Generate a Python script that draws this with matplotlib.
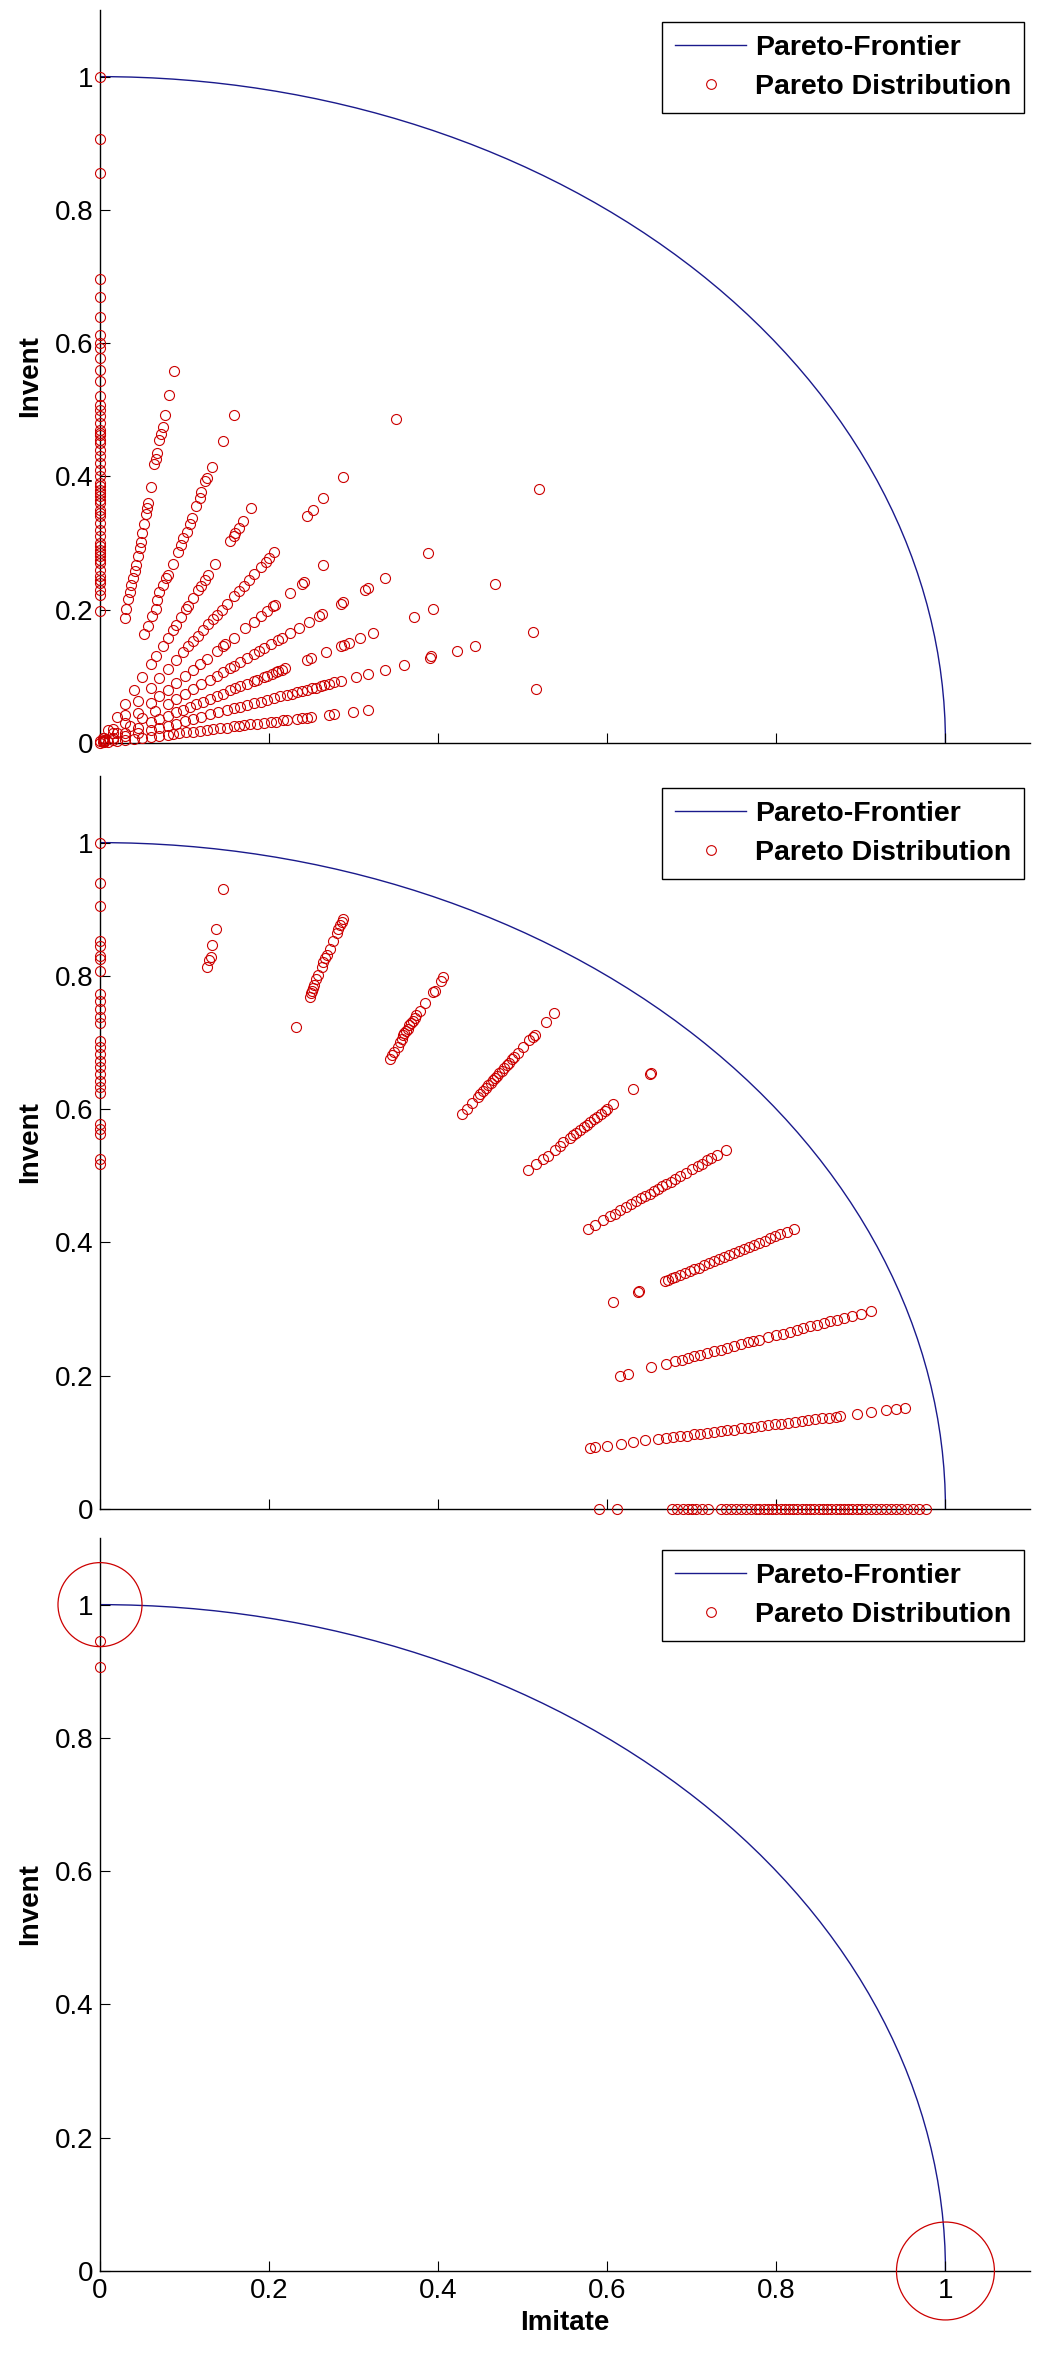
import matplotlib
matplotlib.use("Agg")
import matplotlib.pyplot as plt
import matplotlib.patches as mpatches
from matplotlib.lines import Line2D
import numpy as np

plt.rcParams["font.family"] = ["Liberation Sans", "DejaVu Sans"]

# ---------------- data ----------------
frontier_radius = 1.0
ticks = [0, 0.2, 0.4, 0.6, 0.8, 1]
tick_labels = ["0", "0.2", "0.4", "0.6", "0.8", "1"]

# top panel: points along rays from the origin
t_axis_y = [1.0, 0.907, 0.855, 0.697, 0.670, 0.640, 0.613, 0.600, 0.593, 0.578, 0.560, 0.543,
            0.520, 0.507, 0.500, 0.490, 0.480, 0.470, 0.465, 0.462, 0.455, 0.450, 0.440, 0.430,
            0.420, 0.410, 0.400, 0.390, 0.385, 0.380, 0.375, 0.370, 0.365, 0.360, 0.350, 0.345,
            0.340, 0.330, 0.320, 0.310, 0.300, 0.295, 0.290, 0.285, 0.280, 0.275, 0.270, 0.260,
            0.250, 0.245, 0.240, 0.230, 0.222, 0.198, 0.003, 0.0]
t_b_x = [0.029, 0.031, 0.033, 0.035, 0.037, 0.039, 0.041, 0.043, 0.045, 0.047, 0.049, 0.050, 0.052,
         0.054, 0.056, 0.057, 0.060, 0.064, 0.066, 0.068, 0.070, 0.072, 0.074, 0.077, 0.082, 0.087]
t_b_y = [0.187, 0.201, 0.216, 0.226, 0.237, 0.247, 0.258, 0.267, 0.280, 0.292, 0.302, 0.315, 0.328,
         0.343, 0.353, 0.360, 0.384, 0.418, 0.426, 0.435, 0.454, 0.464, 0.474, 0.492, 0.522, 0.559]
t_c_x = [0.052, 0.057, 0.062, 0.066, 0.067, 0.070, 0.074, 0.078, 0.080, 0.086, 0.092, 0.096, 0.098,
         0.103, 0.106, 0.109, 0.114, 0.118, 0.120, 0.124, 0.126, 0.132, 0.146, 0.159]
t_c_y = [0.163, 0.176, 0.191, 0.201, 0.214, 0.226, 0.237, 0.247, 0.252, 0.269, 0.287, 0.297, 0.307,
         0.317, 0.328, 0.338, 0.355, 0.368, 0.376, 0.393, 0.398, 0.414, 0.453, 0.492]
t_f_x = [0.004, 0.010, 0.020, 0.030, 0.040, 0.050, 0.060, 0.066, 0.074, 0.080, 0.086, 0.090, 0.096,
         0.102, 0.104, 0.110, 0.116, 0.120, 0.124, 0.128, 0.136, 0.154, 0.158, 0.160, 0.164, 0.169,
         0.179]
t_f_y = [0.008, 0.020, 0.039, 0.059, 0.079, 0.099, 0.118, 0.130, 0.146, 0.158, 0.169, 0.177, 0.189,
         0.201, 0.205, 0.217, 0.229, 0.236, 0.244, 0.252, 0.268, 0.303, 0.311, 0.315, 0.323, 0.333,
         0.353]
t_e_x = [0.005, 0.015, 0.030, 0.045, 0.060, 0.070, 0.080, 0.090, 0.098, 0.104, 0.110, 0.116, 0.122,
         0.128, 0.134, 0.138, 0.144, 0.150, 0.158, 0.164, 0.170, 0.176, 0.182, 0.190, 0.196, 0.200,
         0.206, 0.245, 0.252, 0.264, 0.287, 0.350]
t_e_y = [0.007, 0.021, 0.042, 0.063, 0.083, 0.097, 0.111, 0.125, 0.136, 0.145, 0.153, 0.161, 0.170,
         0.178, 0.186, 0.192, 0.200, 0.209, 0.220, 0.228, 0.236, 0.245, 0.253, 0.264, 0.272, 0.278,
         0.286, 0.341, 0.350, 0.367, 0.399, 0.486]
t_g_x = [0.005, 0.015, 0.030, 0.045, 0.060, 0.070, 0.080, 0.090, 0.100, 0.110, 0.118, 0.126, 0.138,
         0.146, 0.148, 0.158, 0.172, 0.182, 0.190, 0.198, 0.205, 0.207, 0.225, 0.239, 0.241, 0.264]
t_g_y = [0.005, 0.015, 0.030, 0.045, 0.060, 0.070, 0.080, 0.090, 0.100, 0.110, 0.118, 0.126, 0.138,
         0.146, 0.148, 0.158, 0.172, 0.182, 0.190, 0.198, 0.205, 0.207, 0.225, 0.239, 0.241, 0.267]
t_h_x = [0.005, 0.020, 0.035, 0.050, 0.065, 0.080, 0.090, 0.100, 0.110, 0.120, 0.130, 0.138, 0.146,
         0.154, 0.158, 0.166, 0.174, 0.182, 0.188, 0.194, 0.202, 0.210, 0.215, 0.225, 0.235, 0.247,
         0.259, 0.263, 0.285, 0.287, 0.313, 0.317, 0.337, 0.388, 0.519]
t_h_y = [0.004, 0.015, 0.026, 0.037, 0.048, 0.059, 0.066, 0.073, 0.081, 0.088, 0.095, 0.101, 0.107,
         0.113, 0.116, 0.122, 0.128, 0.134, 0.138, 0.142, 0.148, 0.154, 0.158, 0.165, 0.172, 0.181,
         0.190, 0.193, 0.209, 0.211, 0.230, 0.233, 0.247, 0.285, 0.381]
t_i_x = [0.005, 0.015, 0.030, 0.045, 0.060, 0.070, 0.080, 0.090, 0.098, 0.106, 0.114, 0.122, 0.130,
         0.138, 0.146, 0.154, 0.160, 0.166, 0.174, 0.182, 0.186, 0.194, 0.198, 0.204, 0.208, 0.211,
         0.215, 0.219, 0.245, 0.249, 0.267, 0.285, 0.289, 0.295, 0.307, 0.323, 0.371, 0.394, 0.467]
t_i_y = [0.003, 0.008, 0.015, 0.023, 0.031, 0.036, 0.041, 0.046, 0.050, 0.054, 0.058, 0.062, 0.066,
         0.070, 0.074, 0.079, 0.082, 0.085, 0.089, 0.093, 0.095, 0.099, 0.101, 0.104, 0.106, 0.108,
         0.110, 0.112, 0.125, 0.127, 0.136, 0.145, 0.147, 0.150, 0.157, 0.165, 0.189, 0.201, 0.238]
t_j_x = [0.005, 0.015, 0.030, 0.045, 0.060, 0.070, 0.080, 0.090, 0.100, 0.110, 0.120, 0.130, 0.140,
         0.150, 0.158, 0.166, 0.174, 0.182, 0.190, 0.198, 0.206, 0.213, 0.221, 0.227, 0.233, 0.239,
         0.245, 0.251, 0.255, 0.261, 0.265, 0.271, 0.277, 0.285, 0.303, 0.317, 0.337, 0.359, 0.390,
         0.391, 0.422, 0.444, 0.512]
t_j_y = [0.002, 0.005, 0.010, 0.015, 0.020, 0.023, 0.026, 0.029, 0.033, 0.036, 0.039, 0.043, 0.046,
         0.049, 0.052, 0.054, 0.057, 0.060, 0.062, 0.065, 0.067, 0.070, 0.072, 0.074, 0.076, 0.078,
         0.080, 0.082, 0.083, 0.085, 0.087, 0.089, 0.091, 0.093, 0.099, 0.104, 0.110, 0.117, 0.128,
         0.131, 0.138, 0.145, 0.167]
t_k_x = [0.004, 0.010, 0.020, 0.030, 0.040, 0.050, 0.060, 0.070, 0.080, 0.086, 0.094, 0.102, 0.110,
         0.118, 0.126, 0.134, 0.142, 0.150, 0.158, 0.164, 0.170, 0.178, 0.186, 0.194, 0.202, 0.208,
         0.217, 0.221, 0.233, 0.239, 0.245, 0.249, 0.271, 0.277, 0.299, 0.317, 0.516]
t_k_y = [0.001, 0.002, 0.003, 0.005, 0.006, 0.008, 0.009, 0.011, 0.012, 0.013, 0.015, 0.016, 0.017,
         0.018, 0.020, 0.021, 0.022, 0.023, 0.025, 0.026, 0.027, 0.028, 0.029, 0.030, 0.032, 0.032,
         0.034, 0.034, 0.036, 0.037, 0.038, 0.039, 0.042, 0.043, 0.047, 0.049, 0.081]

# middle panel: points pushed out towards the frontier
m_axis_y = [1.0, 0.940, 0.905, 0.853, 0.845, 0.830, 0.826, 0.808, 0.773, 0.763, 0.750, 0.738, 0.730,
            0.703, 0.693, 0.683, 0.673, 0.663, 0.653, 0.643, 0.633, 0.624, 0.578, 0.570, 0.563,
            0.525, 0.517]
m_b_x = [0.127, 0.129, 0.131, 0.133, 0.137, 0.146]
m_b_y = [0.814, 0.824, 0.829, 0.846, 0.871, 0.931]
m_c_x = [0.232, 0.248, 0.250, 0.251, 0.252, 0.253, 0.256, 0.258, 0.262, 0.264, 0.266, 0.268, 0.272,
         0.276, 0.280, 0.282, 0.284, 0.286, 0.288]
m_c_y = [0.723, 0.769, 0.774, 0.777, 0.782, 0.786, 0.796, 0.801, 0.813, 0.821, 0.827, 0.832, 0.841,
         0.853, 0.864, 0.870, 0.876, 0.881, 0.886]
m_f_x = [0.343, 0.345, 0.348, 0.352, 0.355, 0.357, 0.358, 0.360, 0.362, 0.364, 0.366, 0.368, 0.370,
         0.372, 0.374, 0.378, 0.384, 0.394, 0.396, 0.403, 0.406]
m_f_y = [0.676, 0.681, 0.686, 0.694, 0.701, 0.705, 0.711, 0.714, 0.717, 0.721, 0.726, 0.729, 0.733,
         0.737, 0.741, 0.747, 0.759, 0.776, 0.778, 0.792, 0.799]
m_e_x = [0.428, 0.434, 0.440, 0.447, 0.450, 0.453, 0.456, 0.459, 0.462, 0.465, 0.467, 0.469, 0.472,
         0.475, 0.478, 0.481, 0.484, 0.487, 0.490, 0.494, 0.500, 0.508, 0.512, 0.514, 0.528, 0.537]
m_e_y = [0.593, 0.601, 0.609, 0.619, 0.623, 0.627, 0.632, 0.636, 0.640, 0.644, 0.647, 0.650, 0.654,
         0.658, 0.662, 0.666, 0.670, 0.675, 0.679, 0.684, 0.693, 0.704, 0.709, 0.712, 0.731, 0.744]
m_g_x = [0.506, 0.516, 0.524, 0.530, 0.538, 0.544, 0.548, 0.556, 0.560, 0.563, 0.568, 0.572, 0.576,
         0.580, 0.584, 0.588, 0.592, 0.597, 0.600, 0.607, 0.630, 0.650, 0.652]
m_g_y = [0.508, 0.518, 0.525, 0.530, 0.539, 0.545, 0.550, 0.557, 0.561, 0.564, 0.569, 0.573, 0.577,
         0.581, 0.585, 0.589, 0.593, 0.597, 0.601, 0.608, 0.631, 0.653, 0.655]
m_h_x = [0.577, 0.585, 0.595, 0.603, 0.609, 0.615, 0.622, 0.628, 0.634, 0.640, 0.645, 0.650, 0.655,
         0.660, 0.665, 0.670, 0.675, 0.680, 0.686, 0.693, 0.700, 0.707, 0.712, 0.718, 0.723, 0.730,
         0.741]
m_h_y = [0.420, 0.426, 0.433, 0.439, 0.443, 0.448, 0.453, 0.457, 0.462, 0.466, 0.470, 0.473, 0.477,
         0.480, 0.484, 0.488, 0.491, 0.495, 0.499, 0.504, 0.510, 0.515, 0.518, 0.523, 0.526, 0.531,
         0.539]
m_i_x = [0.607, 0.636, 0.638, 0.668, 0.672, 0.676, 0.680, 0.686, 0.692, 0.698, 0.703, 0.708, 0.714,
         0.720, 0.726, 0.732, 0.738, 0.744, 0.750, 0.756, 0.762, 0.768, 0.774, 0.780, 0.786, 0.792,
         0.798, 0.804, 0.812, 0.821]
m_i_y = [0.311, 0.326, 0.327, 0.342, 0.344, 0.346, 0.348, 0.351, 0.354, 0.357, 0.360, 0.362, 0.366,
         0.369, 0.372, 0.375, 0.378, 0.381, 0.384, 0.387, 0.390, 0.393, 0.396, 0.399, 0.402, 0.406,
         0.409, 0.412, 0.416, 0.420]
m_j_x = [0.615, 0.624, 0.652, 0.670, 0.680, 0.688, 0.696, 0.702, 0.710, 0.718, 0.726, 0.734, 0.742,
         0.750, 0.758, 0.766, 0.772, 0.780, 0.790, 0.800, 0.808, 0.816, 0.824, 0.832, 0.840, 0.848,
         0.856, 0.864, 0.872, 0.880, 0.890, 0.900, 0.912]
m_j_y = [0.200, 0.203, 0.213, 0.218, 0.222, 0.224, 0.227, 0.229, 0.231, 0.234, 0.237, 0.239, 0.242,
         0.245, 0.247, 0.250, 0.252, 0.254, 0.258, 0.261, 0.263, 0.266, 0.269, 0.271, 0.274, 0.276,
         0.279, 0.282, 0.284, 0.287, 0.290, 0.293, 0.297]
m_k_x = [0.580, 0.585, 0.600, 0.616, 0.630, 0.645, 0.660, 0.670, 0.678, 0.686, 0.694, 0.702, 0.710,
         0.718, 0.726, 0.734, 0.742, 0.750, 0.758, 0.766, 0.774, 0.782, 0.790, 0.798, 0.806, 0.814,
         0.822, 0.830, 0.838, 0.846, 0.854, 0.862, 0.870, 0.875, 0.895, 0.912, 0.930, 0.941, 0.952]
m_k_y = [0.092, 0.093, 0.095, 0.098, 0.100, 0.103, 0.105, 0.107, 0.108, 0.109, 0.110, 0.112, 0.113,
         0.114, 0.115, 0.117, 0.118, 0.119, 0.121, 0.122, 0.123, 0.124, 0.126, 0.127, 0.128, 0.129,
         0.131, 0.132, 0.133, 0.135, 0.136, 0.137, 0.138, 0.139, 0.142, 0.145, 0.148, 0.150, 0.151]
m_base_x = [0.590, 0.611, 0.676, 0.682, 0.690, 0.695, 0.700, 0.705, 0.712, 0.719, 0.735, 0.741,
            0.746, 0.752, 0.758, 0.764, 0.770, 0.776, 0.780, 0.785, 0.790, 0.795, 0.800, 0.805,
            0.810, 0.815, 0.820, 0.825, 0.830, 0.835, 0.840, 0.845, 0.850, 0.855, 0.860, 0.865,
            0.870, 0.875, 0.880, 0.885, 0.890, 0.895, 0.900, 0.906, 0.912, 0.918, 0.924, 0.930,
            0.936, 0.942, 0.948, 0.955, 0.962, 0.969, 0.977]

# bottom panel: only the corner solutions
b_axis_y = [0.945, 0.907]
corner_x = [0.0, 1.0]
corner_y = [1.0, 0.0]

top_x = t_b_x + t_c_x + t_f_x + t_e_x + t_g_x + t_h_x + t_i_x + t_j_x + t_k_x
top_y = t_b_y + t_c_y + t_f_y + t_e_y + t_g_y + t_h_y + t_i_y + t_j_y + t_k_y
mid_x = m_b_x + m_c_x + m_f_x + m_e_x + m_g_x + m_h_x + m_i_x + m_j_x + m_k_x + m_base_x
mid_y = m_b_y + m_c_y + m_f_y + m_e_y + m_g_y + m_h_y + m_i_y + m_j_y + m_k_y + [0.0] * len(m_base_x)

panels = [
    (list(np.zeros(len(t_axis_y))) + top_x, t_axis_y + top_y),
    (list(np.zeros(len(m_axis_y))) + mid_x, m_axis_y + mid_y),
    (list(np.zeros(len(b_axis_y))), b_axis_y),
]

# ---------------- drawing ----------------
RED = "#cc0000"
BLUE = "#1a1a8c"

fig = plt.figure(figsize=(10.56, 23.6), dpi=100)
W, H = 1056.0, 2360.0
ax_left, ax_right = 100, 1030
bottoms_px = [743, 1509, 2271]
ax_h = 733

for i, (px, py) in enumerate(panels):
    ax = fig.add_axes([ax_left / W, (H - bottoms_px[i]) / H, (ax_right - ax_left) / W, ax_h / H])

    arc = mpatches.Arc((0, 0), 2 * frontier_radius, 2 * frontier_radius,
                       theta1=0, theta2=90, color=BLUE, lw=1.0)
    ax.add_patch(arc)
    ax.plot(px, py, linestyle="none", marker="o", ms=7.2, mfc="none",
            mec=RED, mew=0.8, clip_on=False, zorder=3)

    if i == 2:
        ax.scatter(corner_x, corner_y, s=[60.5 ** 2, 70.5 ** 2], facecolors="none",
                   edgecolors=RED, linewidths=0.9, clip_on=False, zorder=4)

    ax.set_xlim(0, 1.1)
    ax.set_ylim(0, 1.1)
    ax.set_xticks(ticks)
    ax.set_yticks(ticks)
    ax.set_yticklabels(tick_labels)
    if i == 2:
        ax.set_xticklabels(tick_labels)
        ax.set_xlabel("Imitate", fontsize=20, fontweight="bold", labelpad=4)
    else:
        ax.set_xticklabels([])

    ax.spines["top"].set_visible(False)
    ax.spines["right"].set_visible(False)
    for s in ("left", "bottom"):
        ax.spines[s].set_linewidth(1.0)
    ax.tick_params(direction="in", length=7, width=0.8, labelsize=20, pad=5)
    ax.set_ylabel("Invent", fontsize=20, fontweight="bold", labelpad=8)

    handles = [
        Line2D([], [], color=BLUE, lw=1.0),
        Line2D([], [], linestyle="none", marker="o", ms=7, mfc="none", mec=RED, mew=0.8),
    ]
    leg = ax.legend(handles, ["Pareto-Frontier", "Pareto Distribution"],
                    loc="upper right", bbox_to_anchor=(0.9935, 0.984), borderaxespad=0,
                    fancybox=False, framealpha=1, edgecolor="black",
                    prop={"weight": "bold", "size": 20.5}, handlelength=2.5,
                    handletextpad=0.3, borderpad=0.45, labelspacing=0.47)
    leg.get_frame().set_linewidth(1.0)

fig.savefig("out.png", dpi=100)
